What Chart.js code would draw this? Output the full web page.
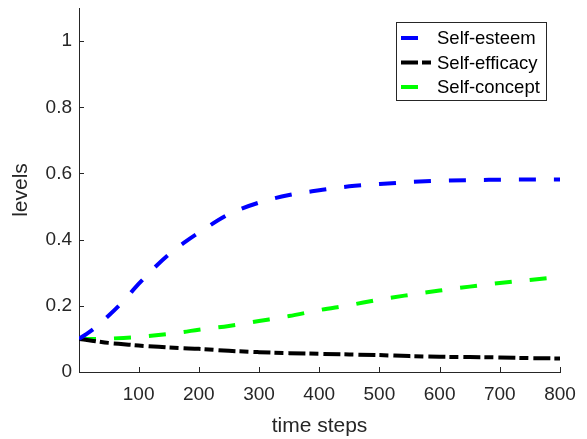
<!DOCTYPE html>
<html>
<head>
<meta charset="utf-8">
<script src="https://cdn.jsdelivr.net/npm/chart.js@4"></script>
<style>
  html, body { margin: 0; padding: 0; background: #fff; }
</style>
</head>
<body>
<canvas id="chart" width="587" height="439"></canvas>
<script>
const steps = [1, 25, 50, 75, 100, 125, 150, 175, 200, 250, 300, 350, 400, 450, 500, 550, 600, 650, 700, 750, 800];
const selfEsteem = [0.1, 0.13, 0.17, 0.215, 0.266, 0.313, 0.355, 0.39, 0.421, 0.477, 0.512, 0.535, 0.549, 0.561, 0.568, 0.574, 0.578, 0.58, 0.581, 0.582, 0.582];
const selfEfficacy = [0.1, 0.094, 0.088, 0.084, 0.08, 0.077, 0.074, 0.072, 0.07, 0.064, 0.06, 0.057, 0.055, 0.053, 0.051, 0.048, 0.046, 0.045, 0.044, 0.042, 0.041];
const selfConcept = [0.1, 0.1, 0.101, 0.103, 0.106, 0.11, 0.115, 0.121, 0.128, 0.139, 0.154, 0.169, 0.187, 0.202, 0.219, 0.233, 0.246, 0.258, 0.269, 0.278, 0.287];
const seriesNames = ['Self-esteem', 'Self-efficacy', 'Self-concept'];
const xTicks = [100, 200, 300, 400, 500, 600, 700, 800];
const yTicks = [0, 0.2, 0.4, 0.6, 0.8, 1];

const axisColor = '#262626';
const fontFamily = '"Liberation Sans", Arial, sans-serif';

function toPoints(values) {
  return values.map((v, i) => ({ x: steps[i], y: v }));
}

// MATLAB-style ticks pointing into the plot area
const innerTicks = {
  id: 'innerTicks',
  beforeDatasetsDraw(chart) {
    const { ctx, chartArea, scales } = chart;
    ctx.save();
    ctx.strokeStyle = axisColor;
    ctx.lineWidth = 1;
    ctx.beginPath();
    xTicks.forEach(v => {
      const px = Math.round(scales.x.getPixelForValue(v)) + 0.5;
      ctx.moveTo(px, chartArea.bottom);
      ctx.lineTo(px, chartArea.bottom - 5);
    });
    yTicks.forEach(v => {
      const py = Math.round(scales.y.getPixelForValue(v)) + 0.5;
      ctx.moveTo(chartArea.left, py);
      ctx.lineTo(chartArea.left + 5, py);
    });
    ctx.stroke();
    ctx.restore();
  }
};

// boxed legend in the upper right, like the original figure
const boxLegend = {
  id: 'boxLegend',
  afterDraw(chart) {
    const { ctx } = chart;
    const box = { x: 396.5, y: 22.5, w: 150, h: 78 };
    ctx.save();
    ctx.fillStyle = '#fff';
    ctx.fillRect(box.x, box.y, box.w, box.h);
    ctx.strokeStyle = axisColor;
    ctx.lineWidth = 1;
    ctx.strokeRect(box.x, box.y, box.w, box.h);
    ctx.font = '18.5px ' + fontFamily;
    ctx.textBaseline = 'middle';
    chart.data.datasets.forEach((ds, i) => {
      const y = 38 + i * 24.5;
      ctx.strokeStyle = ds.borderColor;
      ctx.lineWidth = ds.borderWidth;
      ctx.setLineDash(ds.borderDash);
      ctx.beginPath();
      ctx.moveTo(401, y);
      ctx.lineTo(432, y);
      ctx.stroke();
      ctx.setLineDash([]);
      ctx.fillStyle = '#000';
      ctx.fillText(ds.label, 437, y + 1);
    });
    ctx.restore();
  }
};

new Chart(document.getElementById('chart'), {
  type: 'line',
  data: {
    datasets: [
      { label: seriesNames[0], data: toPoints(selfEsteem), borderColor: '#0000ff', borderDash: [17, 18] },
      { label: seriesNames[1], data: toPoints(selfEfficacy), borderColor: '#000000', borderDash: [17, 4, 9, 5] },
      { label: seriesNames[2], data: toPoints(selfConcept), borderColor: '#00ff00', borderDash: [17, 18] }
    ].map(ds => Object.assign(ds, {
      borderWidth: 4,
      pointRadius: 0,
      fill: false,
      cubicInterpolationMode: 'monotone'
    }))
  },
  options: {
    responsive: false,
    animation: false,
    devicePixelRatio: 1,
    layout: { padding: { top: 8, right: 27, left: 0, bottom: 0 } },
    plugins: {
      legend: { display: false },
      tooltip: { enabled: false }
    },
    scales: {
      x: {
        type: 'linear',
        min: 1,
        max: 800,
        afterBuildTicks: s => { s.ticks = xTicks.map(v => ({ value: v })); },
        afterFit: s => { s.height = 67; s.paddingLeft = 0; s.paddingRight = 0; },
        grid: { display: false, drawTicks: false },
        border: { display: true, color: axisColor, width: 1 },
        ticks: {
          color: axisColor,
          font: { family: fontFamily, size: 19 },
          padding: 11,
          maxRotation: 0,
          callback: v => String(v)
        },
        title: {
          display: true,
          text: 'time steps',
          color: axisColor,
          font: { family: fontFamily, size: 21 },
          padding: { top: 1, bottom: 0 }
        }
      },
      y: {
        min: 0,
        max: 1.1,
        afterBuildTicks: s => { s.ticks = yTicks.map(v => ({ value: v })); },
        afterFit: s => { s.width = 79; s.paddingTop = 0; s.paddingBottom = 0; },
        grid: { display: false, drawTicks: false },
        border: { display: true, color: axisColor, width: 1 },
        ticks: {
          color: axisColor,
          font: { family: fontFamily, size: 19 },
          padding: 7,
          callback: v => String(v)
        },
        title: {
          display: true,
          text: 'levels',
          color: axisColor,
          font: { family: fontFamily, size: 21 },
          padding: { top: 9, bottom: 0 }
        }
      }
    }
  },
  plugins: [innerTicks, boxLegend]
});
</script>
</body>
</html>
